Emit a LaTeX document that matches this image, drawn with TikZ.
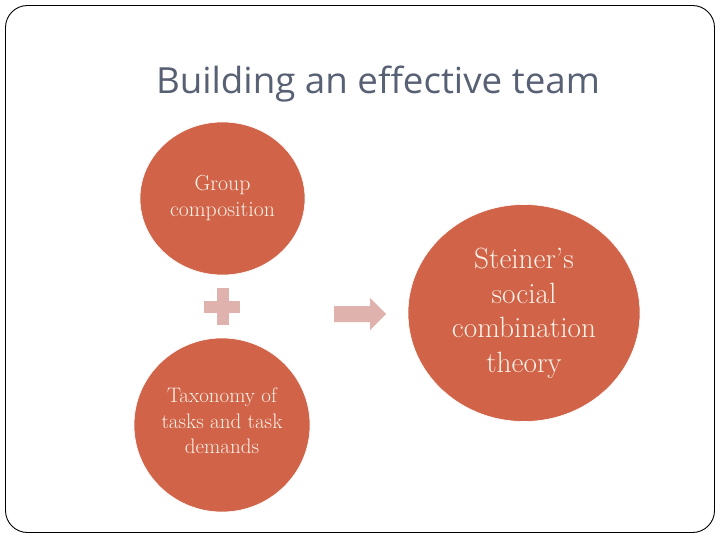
\documentclass[tikz,border=0pt]{standalone}
\usepackage{fontspec}
\usetikzlibrary{shapes.geometric}
\newfontfamily\titlefont[FakeStretch=1.02]{Open Sans}
\definecolor{circfill}{RGB}{208,99,72}
\definecolor{circtext}{RGB}{253,242,232}
\definecolor{symfill}{RGB}{223,178,173}
\definecolor{titlecol}{RGB}{88,96,116}
\tikzset{
  bubble/.style={ellipse, fill=circfill, draw=white, line width=0.6pt, inner sep=0pt},
  bubbletext/.style={text=circtext, align=center, inner sep=0pt}
}
\begin{document}
\begin{tikzpicture}[x=1pt,y=-1pt]
\useasboundingbox (0,0) rectangle (720,540);
\fill[white] (0,0) rectangle (720,540);
\draw[line width=0.9pt, rounded corners=22pt] (5.5,5.5) rectangle (714.5,532.5);
\node[anchor=base, text=titlecol, font={\titlefont\fontsize{36}{42}\selectfont}] (title) at (378,94) {Building an effective team};
\node[bubble, minimum width=165pt, minimum height=153pt] (grp) at (222.5,198.5) {};
\node[bubbletext, font={\fontsize{21.8}{26}\selectfont}] (grptext) at (grp.center) {Group\\composition};
\node[bubble, minimum width=176pt, minimum height=174pt] (tax) at (222,425) {};
\node[bubbletext, font={\fontsize{21}{25.5}\selectfont}] (taxtext) at (222,421) {Taxonomy of\\tasks and task\\demands};
\node[bubble, minimum width=232pt, minimum height=217pt] (stein) at (524,313) {};
\node[bubbletext, font={\fontsize{29.3}{34.5}\selectfont}] (steintext) at (stein.center) {Steiner’s\\social\\combination\\theory};
% plus sign
\fill[fill=symfill] (204,300.5) rectangle (240,312.5);
\fill[fill=symfill] (216.5,288) rectangle (228.5,325);
% arrow
\fill[fill=symfill] (334,306) -- (370,306) -- (370,298) -- (386,314) -- (370,330) -- (370,322) -- (334,322) -- cycle;
\end{tikzpicture}
\end{document}
